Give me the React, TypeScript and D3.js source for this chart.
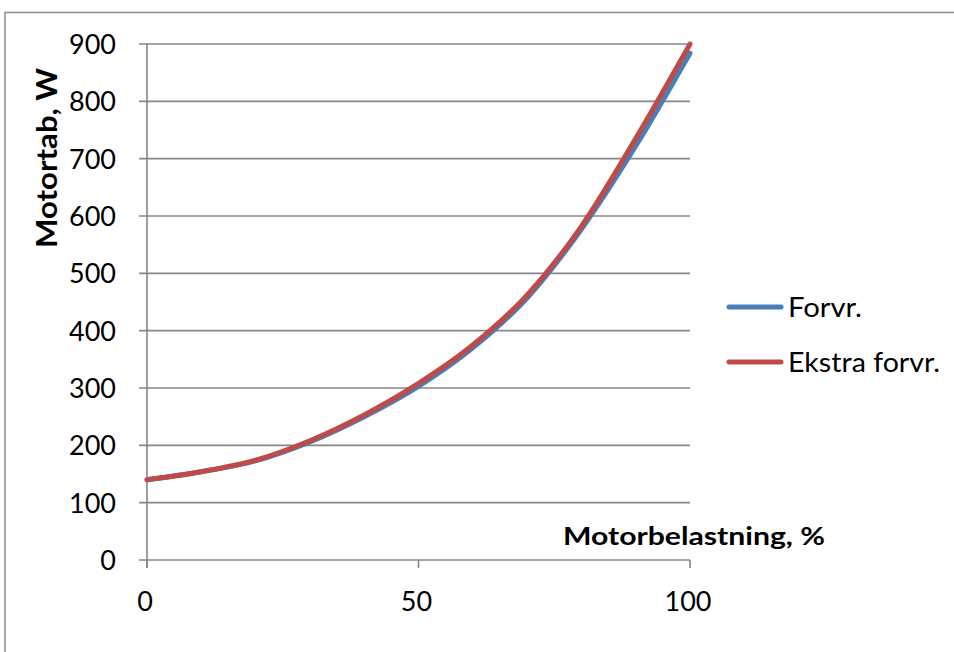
import React from "react";
import * as d3 from "d3";

const loadPct = [0, 10, 20, 30, 40, 50, 60, 70, 80, 90, 100];
const forvr = [140, 154, 173, 206, 250, 303, 370, 457, 577, 722, 884];
const ekstraForvr = [140, 154, 174, 208, 253, 308, 375, 462, 582, 735, 900];
const yTicks = [0, 100, 200, 300, 400, 500, 600, 700, 800, 900];
const xTicks = [0, 50, 100];
const seriesNames = ["Forvr.", "Ekstra forvr."];
const seriesColors = ["#4A7EBB", "#BE4B48"];
const yTitle = "Motortab, W";
const xTitle = "Motorbelastning, %";

export default function App() {
  const W = 954, H = 652;
  const x = d3.scaleLinear().domain([0, 100]).range([147, 690]);
  const y = d3.scaleLinear().domain([0, 900]).range([560, 44]);
  const line = d3
    .line<number>()
    .x((_, i) => x(loadPct[i]))
    .y((d) => y(d))
    .curve(d3.curveMonotoneX);
  const series = [forvr, ekstraForvr];
  const font = "Lato, 'Open Sans', sans-serif";
  const grid = "#868686";
  return (
    <svg width={W} height={H} style={{ position: "absolute", left: 0, top: 0, background: "#fff" }}>
      <rect x={5} y={12.5} width={2000} height={2000} fill="none" stroke="#8c8c8c" strokeWidth={1.5} />
      {yTicks.map((t) => (
        <line key={"g" + t} x1={139} x2={690} y1={y(t)} y2={y(t)} stroke={grid} strokeWidth={1.6} />
      ))}
      <line x1={147} x2={147} y1={y(900)} y2={568} stroke={grid} strokeWidth={1.6} />
      {xTicks.map((t) => (
        <line key={"xt" + t} x1={x(t)} x2={x(t)} y1={560} y2={568} stroke={grid} strokeWidth={1.6} />
      ))}
      {yTicks.map((t) => (
        <text key={"yl" + t} x={116} y={y(t) + 10} textAnchor="end" fontFamily={font} fontSize={27} fill="#000">
          {t}
        </text>
      ))}
      {xTicks.map((t) => (
        <text key={"xl" + t} x={x(t) - 2} y={611} textAnchor="middle" fontFamily={font} fontSize={27} fill="#000">
          {t}
        </text>
      ))}
      {series.map((s, i) => (
        <path key={"s" + i} d={line(s) || ""} fill="none" stroke={seriesColors[i]} strokeWidth={5} strokeLinecap="round" />
      ))}
      <text
        transform={`translate(57,158) rotate(-90)`}
        textAnchor="middle"
        fontFamily={font}
        fontWeight={700}
        fontSize={28}
        textLength={180}
        lengthAdjust="spacingAndGlyphs"
        fill="#000"
      >
        {yTitle}
      </text>
      <text x={563} y={545} fontFamily={font} fontWeight={700} fontSize={25} textLength={262} lengthAdjust="spacingAndGlyphs" fill="#000">
        {xTitle}
      </text>
      {seriesNames.map((n, i) => (
        <g key={"lg" + i}>
          <line x1={729} x2={781} y1={307 + i * 55} y2={307 + i * 55} stroke={seriesColors[i]} strokeWidth={5} strokeLinecap="round" />
          <text x={788} y={317 + i * 55} fontFamily={font} fontSize={27} fill="#000" textLength={i === 0 ? 74 : 152} lengthAdjust="spacingAndGlyphs">
            {n}
          </text>
        </g>
      ))}
    </svg>
  );
}
